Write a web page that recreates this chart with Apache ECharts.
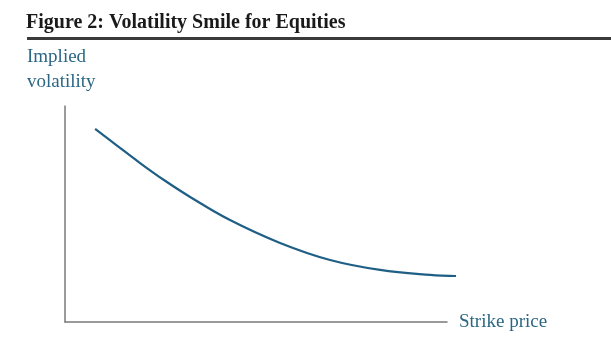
<!DOCTYPE html>
<html>
<head>
<meta charset="utf-8">
<script src="https://cdn.jsdelivr.net/npm/echarts@6/dist/echarts.min.js"></script>
<style>html,body{margin:0;padding:0;background:#fff;}#c{width:611px;height:355px;}</style>
</head>
<body>
<div id="c"></div>
<script>
// Strike price (relative scale 0-100) and implied volatility (relative scale 0-100)
const strike = [7.7, 12.8, 19.2, 25.5, 32.0, 42.2, 55.0, 67.8, 80.6, 93.4, 100];
const impliedVol = [89.4, 82.4, 73.6, 65.5, 57.9, 47.2, 36.6, 28.7, 24.1, 21.8, 21.3];
const titleText = 'Figure 2: Volatility Smile for Equities';
const xName = 'Strike price';
const yName = ['Implied', 'volatility'];

const serif = '"Liberation Serif", "DejaVu Serif", serif';
const blue = '#1f5f85';
const chart = echarts.init(document.getElementById('c'), null, {renderer: 'canvas'});
chart.setOption({
  animation: false,
  backgroundColor: '#fff',
  title: {
    text: titleText, left: 26, top: 13, padding: 0,
    textStyle: {fontFamily: serif, fontWeight: 'bold', fontSize: 20, color: '#1a1a1a'}
  },
  graphic: [{
    type: 'line', shape: {x1: 27, y1: 38.5, x2: 611, y2: 38.5},
    style: {stroke: '#3a3a3a', lineWidth: 3}
  }],
  grid: [
    {left: 65, top: 106, width: 391, height: 216},
    {left: 65, top: 106, width: 382, height: 216}
  ],
  xAxis: [
    {type: 'value', gridIndex: 0, min: 0, max: 100, show: false},
    {type: 'value', gridIndex: 1, min: 0, max: 100,
     name: xName, nameLocation: 'end', nameGap: 12,
     nameTextStyle: {fontFamily: serif, fontSize: 19, color: '#2b6784', verticalAlign: 'middle'},
     axisLine: {show: true, lineStyle: {color: '#7a7a7a', width: 1.5}},
     axisTick: {show: false}, axisLabel: {show: false}, splitLine: {show: false}}
  ],
  yAxis: [
    {type: 'value', gridIndex: 0, min: 0, max: 100, show: false},
    {type: 'value', gridIndex: 1, min: 0, max: 100,
     name: '{a|' + yName[0] + '}\n{a|' + yName[1] + '}', nameLocation: 'end', nameGap: 11,
     nameTextStyle: {fontFamily: serif, fontSize: 19, color: '#2b6784', align: 'center',
       lineHeight: 25,
       rich: {a: {width: 76, align: 'left', fontFamily: serif, fontSize: 19, color: '#2b6784', lineHeight: 25}}},
     axisLine: {show: true, lineStyle: {color: '#7a7a7a', width: 1.5}},
     axisTick: {show: false}, axisLabel: {show: false}, splitLine: {show: false}}
  ],
  series: [{
    type: 'line', xAxisIndex: 0, yAxisIndex: 0,
    data: strike.map((x, i) => [x, impliedVol[i]]),
    smooth: 0.4, showSymbol: false,
    lineStyle: {color: blue, width: 2.2}
  }]
});
</script>
</body>
</html>
